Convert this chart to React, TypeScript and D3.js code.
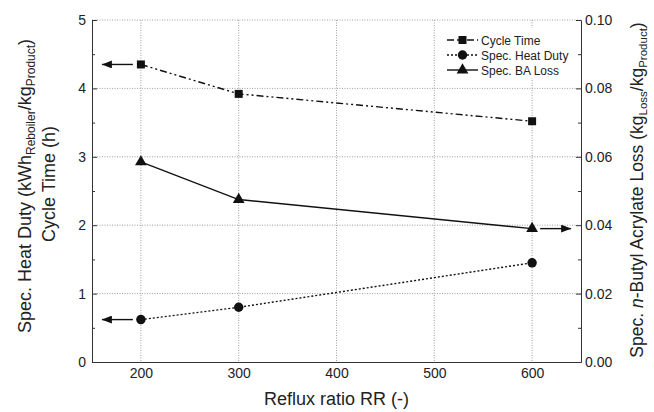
import React, { useEffect, useRef } from 'react';
import * as d3 from 'd3';

// data
const refluxRatio = [200, 300, 600];
const cycleTime = [4.35, 3.92, 3.52];
const heatDuty = [0.62, 0.8, 1.45];
const baLoss = [0.0585, 0.0475, 0.039];

const xTicks = [200, 300, 400, 500, 600];
const leftTicks = [0, 1, 2, 3, 4, 5];
const leftMinor = [0.5, 1.5, 2.5, 3.5, 4.5];
const rightTicks = [0, 0.02, 0.04, 0.06, 0.08, 0.1];
const rightMinor = [0.01, 0.03, 0.05, 0.07, 0.09];

const seriesNames = ['Cycle Time', 'Spec. Heat Duty', 'Spec. BA Loss'];

const FONT = '"Liberation Sans", Arial, sans-serif';

export default function App() {
  const svgRef = useRef<SVGSVGElement>(null);

  useEffect(() => {
    const svg = d3.select(svgRef.current);
    svg.selectAll('*').remove();

    const left = 92, right = 581, top = 20, bottom = 362;
    const x = d3.scaleLinear().domain([150, 650]).range([left, right]);
    const yL = d3.scaleLinear().domain([0, 5]).range([bottom, top]);
    const yR = d3.scaleLinear().domain([0, 0.1]).range([bottom, top]);

    svg.append('defs').append('marker')
      .attr('id', 'arr')
      .attr('viewBox', '0 0 10 8')
      .attr('refX', 10).attr('refY', 4)
      .attr('markerWidth', 10).attr('markerHeight', 8)
      .attr('markerUnits', 'userSpaceOnUse')
      .attr('orient', 'auto')
      .append('path').attr('d', 'M0,0 L10,4 L0,8 Z').attr('fill', '#111');

    // grid
    const grid = svg.append('g').attr('stroke', '#888').attr('stroke-width', 0.8).attr('stroke-dasharray', '1,1.5');
    grid.selectAll('.gx').data(xTicks).enter().append('line')
      .attr('x1', d => x(d)).attr('x2', d => x(d)).attr('y1', top).attr('y2', bottom);
    grid.selectAll('.gy').data(leftTicks.slice(1)).enter().append('line')
      .attr('x1', left).attr('x2', right).attr('y1', d => yL(d)).attr('y2', d => yL(d));

    // axes
    const styleAxis = (g: any) => {
      g.attr('font-family', FONT).attr('font-size', 14);
      g.selectAll('path, line').attr('stroke', '#333');
      g.selectAll('text').attr('fill', '#222');
    };
    svg.append('g').attr('transform', `translate(0,${bottom})`)
      .call(d3.axisBottom(x).tickValues(xTicks).tickSizeInner(0).tickSizeOuter(0).tickPadding(6))
      .call(styleAxis);
    svg.append('g').attr('transform', `translate(${left},0)`)
      .call(d3.axisLeft(yL).tickValues(leftTicks).tickSizeInner(-5).tickSizeOuter(0).tickPadding(6).tickFormat(d3.format('d')))
      .call(styleAxis);
    svg.append('g').attr('transform', `translate(${left},0)`)
      .call(d3.axisLeft(yL).tickValues(leftMinor).tickSizeInner(-3).tickSizeOuter(0).tickFormat(() => ''))
      .call(styleAxis);
    svg.append('g').attr('transform', `translate(${right},0)`)
      .call(d3.axisRight(yR).tickValues(rightTicks).tickSizeInner(-5).tickSizeOuter(0).tickPadding(4).tickFormat(d3.format('.2f')))
      .call(styleAxis);
    svg.append('g').attr('transform', `translate(${right},0)`)
      .call(d3.axisRight(yR).tickValues(rightMinor).tickSizeInner(-3).tickSizeOuter(0).tickFormat(() => ''))
      .call(styleAxis);

    // series
    const lineL = d3.line<number>().x((d, i) => x(refluxRatio[i])).y(d => yL(d));
    const lineR = d3.line<number>().x((d, i) => x(refluxRatio[i])).y(d => yR(d));
    const dashes = ['7,3,2,3,2,3', '2,2', null];

    svg.append('path').attr('d', lineL(cycleTime)).attr('fill', 'none').attr('stroke', '#111')
      .attr('stroke-width', 1.4).attr('stroke-dasharray', dashes[0]);
    svg.append('path').attr('d', lineL(heatDuty)).attr('fill', 'none').attr('stroke', '#111')
      .attr('stroke-width', 1.4).attr('stroke-dasharray', dashes[1]);
    svg.append('path').attr('d', lineR(baLoss)).attr('fill', 'none').attr('stroke', '#111')
      .attr('stroke-width', 1.4);

    const sq = d3.symbol().type(d3.symbolSquare).size(64);
    const ci = d3.symbol().type(d3.symbolCircle).size(70);
    const tr = d3.symbol().type(d3.symbolTriangle).size(60);

    svg.selectAll('.m1').data(cycleTime).enter().append('path')
      .attr('d', sq()).attr('fill', '#111')
      .attr('transform', (d, i) => `translate(${x(refluxRatio[i])},${yL(d)})`);
    svg.selectAll('.m2').data(heatDuty).enter().append('path')
      .attr('d', ci()).attr('fill', '#111')
      .attr('transform', (d, i) => `translate(${x(refluxRatio[i])},${yL(d)})`);
    svg.selectAll('.m3').data(baLoss).enter().append('path')
      .attr('d', tr()).attr('fill', '#111')
      .attr('transform', (d, i) => `translate(${x(refluxRatio[i])},${yR(d)})`);

    // axis-pointing arrows
    const arrow = (x1: number, x2: number, yy: number) =>
      svg.append('line').attr('x1', x1).attr('x2', x2).attr('y1', yy).attr('y2', yy)
        .attr('stroke', '#111').attr('stroke-width', 1.4).attr('marker-end', 'url(#arr)');
    arrow(x(refluxRatio[0]) - 8, x(refluxRatio[0]) - 39, yL(cycleTime[0]));
    arrow(x(refluxRatio[0]) - 8, x(refluxRatio[0]) - 39, yL(heatDuty[0]));
    arrow(x(refluxRatio[2]) + 8, x(refluxRatio[2]) + 39, yR(baLoss[2]));

    // legend
    const lg = svg.append('g').attr('font-family', FONT).attr('font-size', 12);
    lg.append('rect').attr('x', 440).attr('y', 28).attr('width', 138).attr('height', 50).attr('fill', '#fff');
    const syms = [sq, ci, tr];
    seriesNames.forEach((name, i) => {
      const yy = 40 + i * 15;
      lg.append('line').attr('x1', 447).attr('x2', 478).attr('y1', yy).attr('y2', yy)
        .attr('stroke', '#111').attr('stroke-width', 1.4).attr('stroke-dasharray', dashes[i]);
      lg.append('path').attr('d', syms[i]()).attr('fill', '#111').attr('transform', `translate(462.5,${yy})`);
      lg.append('text').attr('x', 481).attr('y', yy + 4.5).attr('fill', '#222').text(name);
    });

    // axis titles
    svg.append('text').attr('x', (left + right) / 2).attr('y', 405).attr('text-anchor', 'middle')
      .attr('font-family', FONT).attr('font-size', 18).attr('fill', '#222').text('Reflux ratio RR (-)');

    const t1 = svg.append('text').attr('transform', 'translate(31,186) rotate(-90)').attr('text-anchor', 'middle')
      .attr('font-family', FONT).attr('font-size', 18).attr('fill', '#222');
    t1.append('tspan').text('Spec. Heat Duty (kWh');
    t1.append('tspan').attr('font-size', 12).attr('dy', 4).text('Reboiler');
    t1.append('tspan').attr('dy', -4).text('/kg');
    t1.append('tspan').attr('font-size', 12).attr('dy', 4).text('Product');
    t1.append('tspan').attr('dy', -4).text(')');

    svg.append('text').attr('transform', 'translate(55,184) rotate(-90)').attr('text-anchor', 'middle')
      .attr('font-family', FONT).attr('font-size', 18).attr('fill', '#222').text('Cycle Time (h)');

    const t2 = svg.append('text').attr('transform', 'translate(643,190) rotate(-90)').attr('text-anchor', 'middle')
      .attr('font-family', FONT).attr('font-size', 17.5).attr('fill', '#222');
    t2.append('tspan').text('Spec. ');
    t2.append('tspan').attr('font-style', 'italic').text('n');
    t2.append('tspan').text('-Butyl Acrylate Loss (kg');
    t2.append('tspan').attr('font-size', 11.5).attr('dy', 4).text('Loss');
    t2.append('tspan').attr('dy', -4).text('/kg');
    t2.append('tspan').attr('font-size', 11.5).attr('dy', 4).text('Product');
    t2.append('tspan').attr('dy', -4).text(')');
  }, []);

  return (
    <svg ref={svgRef} width={654} height={412}
      style={{ position: 'absolute', left: 0, top: 0, background: '#fff' }} />
  );
}
